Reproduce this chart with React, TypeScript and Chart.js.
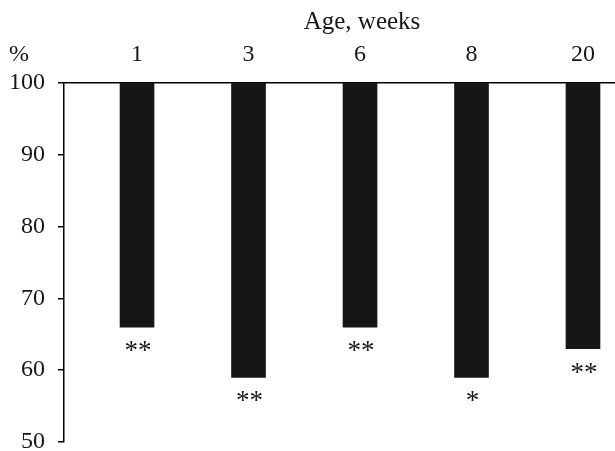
import React, { useEffect, useRef } from "react";
import { Chart, registerables } from "chart.js";

Chart.register(...registerables);

const categories = ["1", "3", "6", "8", "20"];
const values = [66, 59, 66, 59, 63];
const significance = ["**", "**", "**", "*", "**"];
const axisTitle = "Age, weeks";
const unitLabel = "%";

const FONT = "'Liberation Serif', 'Times New Roman', serif";
const INK = "#161616";

const overlayPlugin = {
  id: "overlayText",
  afterDraw(chart: any) {
    const { ctx, scales } = chart;
    const x = scales.x;
    const y = scales.y;
    ctx.save();
    ctx.fillStyle = INK;
    ctx.textAlign = "center";
    ctx.textBaseline = "middle";
    // significance marks under each bar
    ctx.font = `27px ${FONT}`;
    values.forEach((v, i) => {
      const px = x.getPixelForValue(i);
      const py = y.getPixelForValue(v);
      ctx.fillText(significance[i], px + 1, py + 25);
    });
    // axis title centered over the bars
    ctx.font = `25px ${FONT}`;
    const mid = (x.getPixelForValue(0) + x.getPixelForValue(categories.length - 1)) / 2;
    ctx.fillText(axisTitle, mid + 2, 22);
    // unit label
    ctx.font = `24px ${FONT}`;
    ctx.textAlign = "left";
    ctx.fillText(unitLabel, 9, 55);
    ctx.restore();
  },
};

export default function App() {
  const ref = useRef<HTMLCanvasElement>(null);

  useEffect(() => {
    if (!ref.current) return;
    const chart = new Chart(ref.current, {
      type: "bar",
      data: {
        datasets: [
          {
            data: values.map((v, i) => ({ x: i, y: [v, 100] })) as any,
            backgroundColor: INK,
            borderWidth: 0,
            barThickness: 34,
          },
        ],
      },
      options: {
        animation: false,
        responsive: false,
        maintainAspectRatio: false,
        layout: { padding: { top: 0, left: 0, right: 0, bottom: 18 } },
        plugins: {
          legend: { display: false },
          tooltip: { enabled: false },
          title: { display: false },
        },
        scales: {
          x: {
            type: "linear",
            position: "top",
            offset: false,
            min: -0.655,
            max: 4.287,
            grid: { display: false, drawTicks: false, offset: false },
            border: { display: true, color: "#000", width: 1.5 },
            ticks: {
              color: INK,
              font: { family: FONT, size: 24 },
              padding: 14,
              callback: (v: any) => categories[v] ?? "",
            },
            afterBuildTicks: (s: any) => {
              s.ticks = categories.map((_, i) => ({ value: i }));
            },
            afterFit: (s: any) => {
              s.height = 83;
              s.paddingLeft = 0;
              s.paddingRight = 0;
            },
          },
          y: {
            min: 50,
            max: 100,
            ticks: {
              stepSize: 10,
              color: INK,
              font: { family: FONT, size: 24 },
              padding: 13,
            },
            grid: {
              drawOnChartArea: false,
              drawTicks: true,
              tickLength: 6,
              color: "#000",
              lineWidth: 1.5,
            },
            border: { display: true, color: "#000", width: 1.5 },
            afterFit: (s: any) => {
              s.width = 64;
              s.paddingTop = 0;
              s.paddingBottom = 0;
            },
          },
        },
      },
      plugins: [overlayPlugin],
    });
    return () => chart.destroy();
  }, []);

  return (
    <div
      style={{
        position: "absolute",
        left: 0,
        top: 0,
        width: 615,
        height: 451,
        overflow: "hidden",
        background: "#fff",
      }}
    >
      <canvas ref={ref} width={615} height={460} style={{ display: "block", width: 615, height: 460 }} />
    </div>
  );
}
